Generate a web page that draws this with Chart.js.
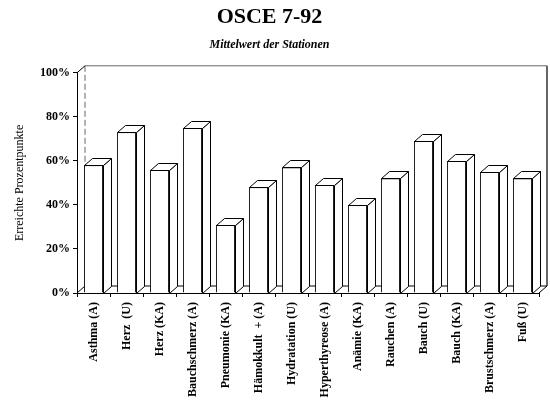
<!DOCTYPE html>
<html>
<head>
<meta charset="utf-8">
<script src="https://cdn.jsdelivr.net/npm/chart.js@4.4.1/dist/chart.umd.min.js"></script>
<style>
  html, body { margin: 0; padding: 0; background: #fff; }
  #wrap { width: 550px; height: 403px; }
</style>
</head>
<body>
<div id="wrap"><canvas id="chart" width="550" height="403"></canvas></div>
<script>
const stations = ['Asthma (A)', 'Herz  (U)', 'Herz (KA)', 'Bauchschmerz (A)', 'Pneumonie (KA)',
  'Hämokkult  + (A)', 'Hydratation (U)', 'Hyperthyreose (A)', 'Anämie (KA)', 'Rauchen (A)',
  'Bauch (U)', 'Bauch (KA)', 'Brustschmerz (A)', 'Fuß (U)'];
const meanPercent = [58, 73, 56, 75, 31, 48, 57, 49, 40, 52, 69, 60, 55, 52];
const yMax = 100;
const yStep = 20;

const SERIF = "'Liberation Serif', 'DejaVu Serif', serif";
const depth = { x: 8, y: 7 };

// draws the box walls / floor and the side + top faces of each bar
const box3d = {
  id: 'box3d',
  beforeDatasetsDraw(chart) {
    const { ctx, chartArea: a } = chart;
    const dx = depth.x, dy = depth.y;
    ctx.save();
    ctx.lineWidth = 1;
    ctx.strokeStyle = '#666';
    ctx.beginPath();
    ctx.moveTo(a.left + dx, a.top - dy);
    ctx.lineTo(a.right + dx, a.top - dy);
    ctx.stroke();
    ctx.lineWidth = 2;
    ctx.beginPath();
    ctx.moveTo(a.right + dx, a.top - dy);
    ctx.lineTo(a.right + dx, a.bottom - dy);
    ctx.stroke();
    ctx.lineWidth = 1;
    ctx.setLineDash([6, 3]);
    ctx.beginPath();
    ctx.moveTo(a.left + dx, a.top - dy);
    ctx.lineTo(a.left + dx, a.bottom - dy);
    ctx.stroke();
    ctx.setLineDash([]);
    ctx.strokeStyle = '#000';
    ctx.beginPath();
    ctx.moveTo(a.left, a.top);
    ctx.lineTo(a.left + dx, a.top - dy);
    ctx.moveTo(a.left, a.bottom);
    ctx.lineTo(a.left + dx, a.bottom - dy);
    ctx.lineTo(a.right + dx, a.bottom - dy);
    ctx.lineTo(a.right, a.bottom);
    ctx.stroke();
    ctx.restore();
  },
  afterDatasetsDraw(chart) {
    const { ctx } = chart;
    const dx = depth.x, dy = depth.y;
    ctx.save();
    ctx.lineWidth = 1;
    ctx.strokeStyle = '#000';
    ctx.fillStyle = '#fff';
    chart.getDatasetMeta(0).data.forEach(bar => {
      const p = bar.getProps(['x', 'y', 'base', 'width'], true);
      const l = Math.round(p.x - p.width / 2) + 0.5;
      const r = Math.round(p.x + p.width / 2) + 0.5;
      const t = Math.round(p.y) + 0.5;
      const b = Math.round(p.base) + 0.5;
      // side
      ctx.beginPath();
      ctx.moveTo(r, t);
      ctx.lineTo(r + dx, t - dy);
      ctx.lineTo(r + dx, b - dy);
      ctx.lineTo(r, b);
      ctx.closePath();
      ctx.fill();
      ctx.stroke();
      // top
      ctx.beginPath();
      ctx.moveTo(l, t);
      ctx.lineTo(l + dx, t - dy);
      ctx.lineTo(r + dx, t - dy);
      ctx.lineTo(r, t);
      ctx.closePath();
      ctx.fill();
      ctx.stroke();
    });
    ctx.restore();
  }
};

new Chart(document.getElementById('chart'), {
  type: 'bar',
  data: {
    labels: stations,
    datasets: [{
      data: meanPercent,
      backgroundColor: '#fff',
      borderColor: '#000',
      borderWidth: 1,
      categoryPercentage: 1,
      barPercentage: 0.58
    }]
  },
  options: {
    responsive: false,
    animation: false,
    layout: { padding: { left: 0, right: 11, top: 0, bottom: 0 } },
    plugins: {
      legend: { display: false },
      tooltip: { enabled: false },
      title: {
        display: true,
        text: 'OSCE 7-92',
        color: '#000',
        font: { family: SERIF, size: 22, weight: 'bold' },
        padding: { top: 4, bottom: 7 }
      },
      subtitle: {
        display: true,
        text: 'Mittelwert der Stationen',
        color: '#000',
        font: { family: SERIF, size: 12, weight: 'bold', style: 'italic' },
        padding: { top: 0, bottom: 21 }
      }
    },
    scales: {
      x: {
        grid: { display: true, drawOnChartArea: false, drawTicks: true, tickLength: 4, color: '#000' },
        border: { display: true, color: '#000' },
        ticks: {
          color: '#000',
          font: { family: SERIF, size: 12, weight: 'bold' },
          minRotation: 90,
          maxRotation: 90,
          autoSkip: false,
          padding: 5
        },
        afterFit(s) { s.height = 110; }
      },
      y: {
        min: 0,
        max: yMax,
        grid: { display: true, drawOnChartArea: false, drawTicks: true, tickLength: 4, color: '#000' },
        border: { display: true, color: '#000' },
        ticks: {
          stepSize: yStep,
          color: '#000',
          font: { family: SERIF, size: 12, weight: 'bold' },
          padding: 3,
          callback: v => v + '%'
        },
        title: {
          display: true,
          text: 'Erreichte Prozentpunkte',
          color: '#000',
          font: { family: SERIF, size: 12 },
          padding: { top: 13, bottom: 0 }
        },
        afterFit(s) { s.width = 77; }
      }
    }
  },
  plugins: [box3d]
});
</script>
</body>
</html>
